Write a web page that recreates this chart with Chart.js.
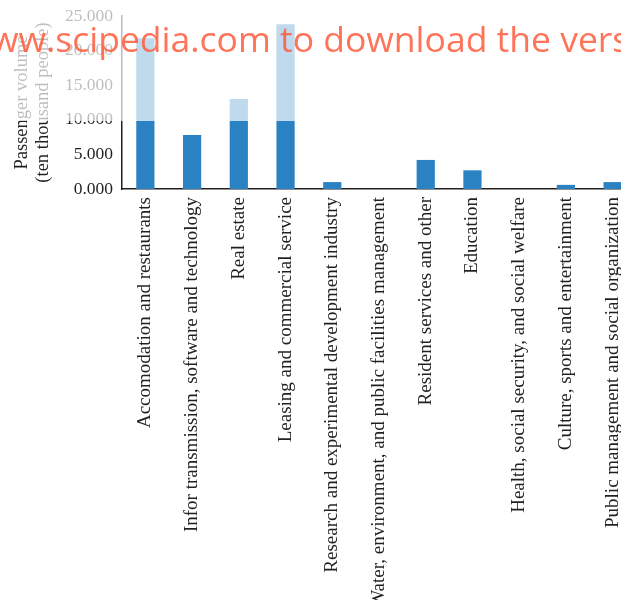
<!DOCTYPE html>
<html lang="en">
<head>
    <meta charset="UTF-8">
    <title>Passenger volume by industry</title>
    <script src="https://cdn.jsdelivr.net/npm/chart.js"></script>
    <style>
        body {
            margin: 0;
            overflow: hidden;
            background: #fff;
        }

        .box {
            width: 636px;
            height: 600px;
        }
    </style>
</head>
<body>
    <div class="box">
        <canvas id="myChart"></canvas>
    </div>

    <script>
        const industries = [
            'Accomodation and restaurants',
            'Infor transmission, software and technology',
            'Real estate',
            'Leasing and commercial service',
            'Research and experimental development industry',
            'Water, environment, and public facilities management',
            'Resident services and other',
            'Education',
            'Health, social security, and social welfare',
            'Culture, sports and entertainment',
            'Public management and social organization'
        ];
        const passengerVolume = [21.8, 7.8, 13.0, 23.8, 1.0, 0, 4.2, 2.7, 0, 0.6, 1.0];
        const yTicks = [0, 5, 10, 15, 20, 25];
        const yTitle = ['Passenger volume', '(ten thousand people)'];
        const watermark = 'www.scipedia.com to download the version';

        const serif = '"Liberation Serif", "DejaVu Serif", serif';
        const ink = '#231f20';

        // the picture is washed out above this line, and stamped with a watermark
        const fadeY = 121;
        const overlay = {
            id: 'overlay',
            afterDraw(chart) {
                const ctx = chart.ctx;
                ctx.save();
                ctx.fillStyle = 'rgba(255,255,255,0.7)';
                ctx.fillRect(0, 0, chart.width, fadeY);

                ctx.font = '35.5px "Open Sans", sans-serif';
                ctx.fillStyle = 'rgba(255,90,60,0.85)';
                ctx.textBaseline = 'alphabetic';
                const lead = ctx.measureText('www.scipedia.com ').width;
                ctx.fillText(watermark, 280 - lead, 52);
                ctx.restore();
            }
        };

        const ctx = document.getElementById('myChart').getContext('2d');

        new Chart(ctx, {
            type: 'bar',
            data: {
                labels: industries,
                datasets: [{
                    data: passengerVolume,
                    backgroundColor: '#2a82c2',
                    barPercentage: 0.39,
                    categoryPercentage: 1
                }]
            },
            options: {
                responsive: true,
                maintainAspectRatio: false,
                animation: false,
                layout: {
                    padding: { top: 16, right: 0, left: 0, bottom: 0 }
                },
                plugins: {
                    legend: { display: false },
                    tooltip: { enabled: false }
                },
                scales: {
                    x: {
                        grid: { display: false },
                        border: { display: true, color: ink, width: 1.5 },
                        ticks: {
                            autoSkip: false,
                            maxRotation: 90,
                            minRotation: 90,
                            padding: 0,
                            color: ink,
                            font: { family: serif, size: 19 }
                        },
                        afterFit(scale) {
                            scale.height = 411;
                        }
                    },
                    y: {
                        min: 0,
                        max: 25,
                        grid: { display: false },
                        border: { display: true, color: ink, width: 1.5 },
                        afterBuildTicks(scale) {
                            scale.ticks = yTicks.map(v => ({ value: v }));
                        },
                        ticks: {
                            padding: 1,
                            color: ink,
                            font: { family: serif, size: 17.5 },
                            callback: value => value.toFixed(3)
                        },
                        title: {
                            display: true,
                            text: yTitle,
                            color: ink,
                            padding: { top: 12, bottom: 0 },
                            font: { family: serif, size: 18.5, lineHeight: 1.14 }
                        },
                        afterFit(scale) {
                            scale.width = 122;
                        }
                    }
                }
            },
            plugins: [overlay]
        });
    </script>
</body>
</html>
